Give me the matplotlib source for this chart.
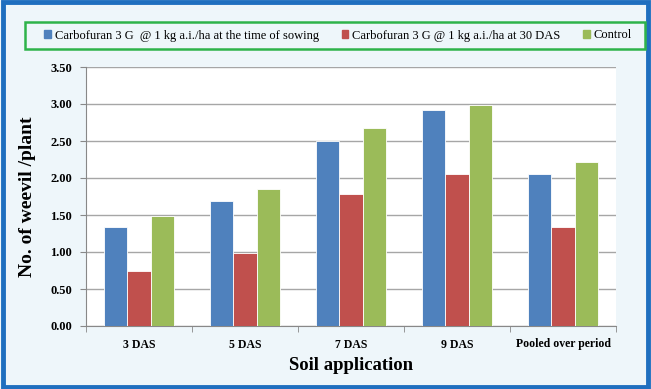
import matplotlib
matplotlib.use("Agg")
import matplotlib.pyplot as plt
import numpy as np
from matplotlib.patches import Rectangle, Patch

categories = ["3 DAS", "5 DAS", "7 DAS", "9 DAS", "Pooled over period"]
series_names = ["Carbofuran 3 G  @ 1 kg a.i./ha at the time of sowing",
                "Carbofuran 3 G @ 1 kg a.i./ha at 30 DAS",
                "Control"]
sowing = [1.34, 1.69, 2.50, 2.92, 2.06]
das30 = [0.74, 0.98, 1.79, 2.06, 1.34]
control = [1.48, 1.85, 2.68, 2.99, 2.22]
yticks = [0.0, 0.5, 1.0, 1.5, 2.0, 2.5, 3.0, 3.5]
colors = ["#4f81bd", "#c0504d", "#9bbb59"]

plt.rcParams['font.family'] = ['Liberation Serif', 'DejaVu Serif']

fig = plt.figure(figsize=(6.51, 3.89), dpi=100)
fig.patch.set_facecolor("#eef6fa")
# outer blue frame
fig.patches.append(Rectangle((0.004, 0.004), 0.992, 0.992, transform=fig.transFigure,
                             fill=False, edgecolor="#1f6fbf", linewidth=3.5))
# legend box
fig.patches.append(Rectangle((25/651, 1-49/389), 620/651, 27/389, transform=fig.transFigure,
                             fill=False, edgecolor="#2eb34a", linewidth=1.8))

ax = fig.add_axes([86/651, 63/389, 530/651, 259/389])
ax.set_facecolor("white")
x = np.arange(len(categories))
w = 0.22
for i, (vals, c) in enumerate(zip([sowing, das30, control], colors)):
    ax.bar(x + (i-1)*w, vals, width=w, color=c, edgecolor="white", linewidth=0.6,
           label=series_names[i], zorder=3)

ax.set_ylim(0, 3.5)
ax.set_xlim(-0.5, len(categories)-0.5)
ax.set_yticks(yticks)
ax.set_yticklabels([f"{v:.2f}" for v in yticks], fontsize=9, fontweight='bold')
ax.yaxis.grid(True, color="#a6a6a6", linewidth=1.0, zorder=0)
ax.set_axisbelow(True)
ax.set_xticks(x)
ax.set_xticklabels(categories, fontsize=8.5, fontweight='bold')
ax.tick_params(axis='x', length=0, pad=9)
ax.set_xticks(np.arange(-0.5, len(categories), 1), minor=True)
ax.tick_params(axis='x', which='minor', length=4, color="#888888")
ax.tick_params(axis='y', length=4, color="#888888", pad=6)
for s in ["top", "right"]:
    ax.spines[s].set_visible(False)
for s in ["left", "bottom"]:
    ax.spines[s].set_color("#888888")

ax.set_ylabel("No. of weevil /plant", fontsize=14, fontweight='bold', labelpad=10)
ax.set_xlabel("Soil application", fontsize=13.5, fontweight='bold', labelpad=5)

handles = [Patch(color=c) for c in colors]
fig.legend(handles, series_names, loc='center', bbox_to_anchor=(338/651, 1-35.5/389),
           ncol=3, frameon=False, fontsize=9, handlelength=0.55, handleheight=0.55,
           handletextpad=0.3, columnspacing=1.8)

fig.savefig("out.png", dpi=100, facecolor=fig.get_facecolor())
